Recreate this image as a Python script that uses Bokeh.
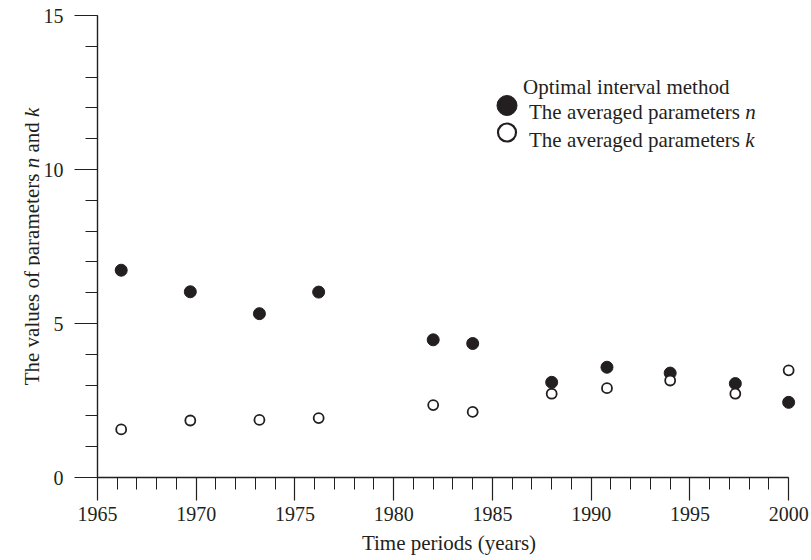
import math
from bokeh.plotting import figure
from bokeh.layouts import row
from bokeh.models import Range1d, FixedTicker, Label, ColumnDataSource
from bokeh.core.properties import value
from bokeh.embed import file_html
from bokeh.resources import INLINE

# ---------------- data ----------------
years = [1966.2, 1969.7, 1973.2, 1976.2, 1982.0, 1984.0, 1988.0, 1990.8, 1994.0, 1997.3, 2000.0]
n_values = [6.73, 6.03, 5.32, 6.02, 4.47, 4.35, 3.09, 3.58, 3.39, 3.05, 2.44]
k_values = [1.56, 1.85, 1.87, 1.93, 2.35, 2.13, 2.72, 2.90, 3.15, 2.72, 3.48]
x_major_ticks = [1965, 1970, 1975, 1980, 1985, 1990, 1995, 2000]
x_minor_ticks = list(range(1965, 2001))
y_major_ticks = [0, 5, 10, 15]
y_minor_ticks = list(range(0, 16))
legend_title = "Optimal interval method"
legend_text = "The averaged parameters"
series_symbols = ["n", "k"]
x_title = "Time periods (years)"
y_title_parts = [("The values of parameters ", "normal"), ("n", "italic"), (" and ", "normal"), ("k", "italic")]

# ---------------- style / layout constants ----------------
INK = "#231f20"
FONT = "Liberation Serif"
FS = 21
W, H = 811, 560
LEFT_W = 40                      # strip holding the vertical axis title
X0, X1, X1_PAD = 1965, 2000, 0.6  # padding keeps the markers at 2000 unclipped
FRAME_LEFT, FRAME_RIGHT = 97.0, 800.0
FRAME_TOP, FRAME_BOTTOM = 15.0, 477.0

# Times advance widths (per 1000 em) for placing mixed-style text pieces
W_REG = {' ': 250, 'T': 611, 'h': 500, 'e': 444, 'v': 500, 'a': 444, 'l': 278, 'u': 500,
         's': 389, 'o': 500, 'f': 333, 'p': 500, 'r': 333, 'm': 778, 't': 278, 'd': 500,
         'n': 500, 'g': 500, 'i': 278, 'O': 722, 'k': 500}
W_ITA = {'n': 500, 'k': 444}


def text_width(s, style, size):
    table = W_ITA if style == "italic" else W_REG
    return sum(table.get(c, 500) for c in s) * size / 1000.0


# ---------------- left strip: vertical title with italic n and k ----------------
# its frame is aligned with the main frame, so its y data == (H - page y)
left = figure(width=LEFT_W, height=H, x_range=Range1d(0, LEFT_W),
              y_range=Range1d(H - FRAME_BOTTOM, H - FRAME_TOP),
              output_backend="svg", toolbar_location=None,
              x_axis_location=None, y_axis_location=None,
              min_border_left=0, min_border_right=0,
              min_border_top=int(FRAME_TOP), min_border_bottom=int(H - FRAME_BOTTOM))
left.outline_line_color = None
left.xgrid.visible = False
left.ygrid.visible = False

center_y = H - (FRAME_TOP + FRAME_BOTTOM) / 2.0
total = sum(text_width(s, st, FS) for s, st in y_title_parts)
pos = center_y - total / 2.0
for s, st in y_title_parts:
    lead = s[:len(s) - len(s.lstrip(" "))]
    pos += text_width(lead, st, FS)          # svg drops leading blanks: advance by hand
    body = s.strip(" ")
    left.text(x=[31.5], y=[pos], text=[body], angle=math.pi / 2,
              text_font=value(FONT), text_font_size=f"{FS}px", text_font_style=st,
              text_color=INK, text_align="left", text_baseline="alphabetic")
    pos += text_width(s.lstrip(" "), st, FS)

# ---------------- main plot ----------------
p = figure(width=W - LEFT_W, height=H,
           x_range=Range1d(X0, X1 + X1_PAD), y_range=Range1d(0, 15),
           output_backend="svg", toolbar_location=None,
           min_border_left=int(FRAME_LEFT - LEFT_W), min_border_right=int(W - FRAME_RIGHT),
           min_border_top=int(FRAME_TOP), min_border_bottom=int(H - FRAME_BOTTOM))
p.outline_line_color = None
p.xgrid.visible = False
p.ygrid.visible = False

for ax, majors, minors in ((p.xaxis[0], x_major_ticks, x_minor_ticks),
                           (p.yaxis[0], y_major_ticks, y_minor_ticks)):
    ax.ticker = FixedTicker(ticks=majors, minor_ticks=minors)
    ax.major_tick_in = 0
    ax.major_tick_out = 23
    ax.minor_tick_in = 0
    ax.minor_tick_out = 12
    ax.axis_line_color = INK
    ax.axis_line_width = 1.4
    ax.major_tick_line_color = INK
    ax.major_tick_line_width = 1.2
    ax.minor_tick_line_color = INK
    ax.minor_tick_line_width = 1.0
    ax.major_label_text_font = FONT
    ax.major_label_text_font_size = "20px"
    ax.major_label_text_color = INK

p.xaxis.bounds = (X0, X1)
p.xaxis.major_label_standoff = 6
p.yaxis.major_label_standoff = 11
p.xaxis.axis_label = x_title
p.xaxis.axis_label_text_font = FONT
p.xaxis.axis_label_text_font_size = f"{FS}px"
p.xaxis.axis_label_text_font_style = "normal"
p.xaxis.axis_label_text_color = INK
p.xaxis.axis_label_standoff = 7

src = ColumnDataSource(dict(year=years, n=n_values, k=k_values))
p.scatter("year", "n", source=src, size=12, fill_color=INK, line_color=INK, line_width=1)
p.scatter("year", "k", source=src, size=10, fill_color="white", line_color=INK, line_width=1.8)


# ---------------- legend (built by hand: mixed upright / italic text) ----------------
def fx(px):
    return px - FRAME_LEFT


def fy(py):
    return FRAME_BOTTOM - py


p.add_layout(Label(x=fx(522.5), y=fy(86), x_units="screen", y_units="screen",
                   text=legend_title, text_font=FONT, text_font_size=f"{FS}px",
                   text_color=INK, text_align="left", text_baseline="alphabetic"))
base_lines = [111.7, 139.0]
for sym, bl in zip(series_symbols, base_lines):
    p.add_layout(Label(x=fx(528.5), y=fy(bl), x_units="screen", y_units="screen",
                       text=legend_text, text_font=FONT, text_font_size=f"{FS}px",
                       text_color=INK, text_align="left", text_baseline="alphabetic"))
    p.add_layout(Label(x=fx(528.5) + text_width(legend_text + " ", "normal", FS), y=fy(bl),
                       x_units="screen", y_units="screen",
                       text=sym, text_font=FONT, text_font_size=f"{FS}px", text_font_style="italic",
                       text_color=INK, text_align="left", text_baseline="alphabetic"))

# legend keys, placed in the plot's data space
px_per_year = (FRAME_RIGHT - FRAME_LEFT) / (X1 + X1_PAD - X0)
px_per_unit = (FRAME_BOTTOM - FRAME_TOP) / 15.0
key_x = X0 + (506.5 - FRAME_LEFT) / px_per_year
key_y = [(FRAME_BOTTOM - 105.0) / px_per_unit, (FRAME_BOTTOM - 132.0) / px_per_unit]
p.scatter([key_x], [key_y[0]], size=20, fill_color=INK, line_color=INK, line_width=1)
p.scatter([key_x], [key_y[1]], size=18, fill_color="white", line_color=INK, line_width=2.2)

layout = row(left, p)
open("out.html", "w").write(file_html(layout, INLINE))
